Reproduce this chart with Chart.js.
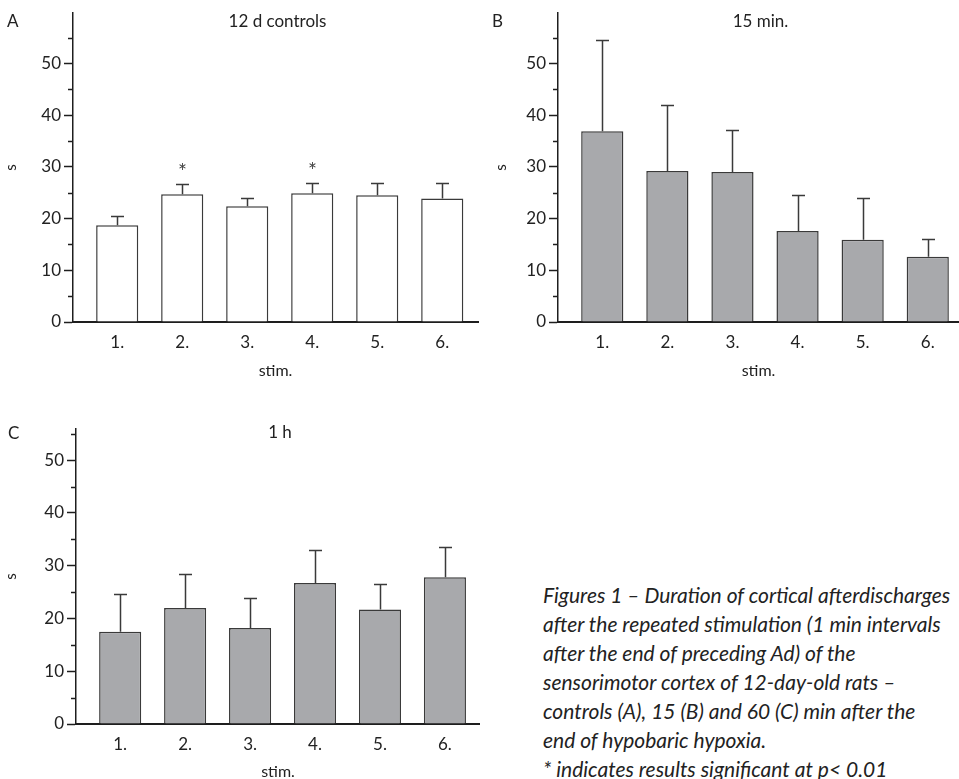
<!DOCTYPE html>
<html>
<head>
<meta charset="utf-8">
<script src="https://cdn.jsdelivr.net/npm/chart.js@4.4.1/dist/chart.umd.min.js"></script>
<style>
  body { margin: 0; background: #fff; width: 959px; height: 779px; position: relative; overflow: hidden;
         font-family: Lato, "Open Sans", sans-serif; color: #222; }
  canvas { position: absolute; }
  .letter { position: absolute; font-size: 17px; line-height: 1; }
  .caption { position: absolute; left: 543px; top: 580px; font-style: italic; font-size: 21px;
             line-height: 29px; white-space: nowrap; }
</style>
</head>
<body>
<canvas id="chartA" width="480" height="385" style="left:0;top:0"></canvas>
<canvas id="chartB" width="479" height="385" style="left:480px;top:0"></canvas>
<canvas id="chartC" width="480" height="386" style="left:0;top:400px"></canvas>

<div class="letter" style="left:7px;top:12px">A</div>
<div class="letter" style="left:492px;top:12px">B</div>
<div class="letter" style="left:8px;top:424px">C</div>

<div class="caption">Figures 1 – Duration of cortical afterdischarges<br>after the repeated stimulation (1 min intervals<br>after the end of preceding Ad) of the<br>sensorimotor cortex of 12-day-old rats –<br>controls (A), 15 (B) and 60 (C) min after the<br>end of hypobaric hypoxia.<br>* indicates results significant at p&lt; 0.01</div>

<script>
"use strict";

// ── Data ──────────────────────────────────────────────────
const stims   = [1, 2, 3, 4, 5, 6];
const xLabels = ["1.", "2.", "3.", "4.", "5.", "6."];

// A: 12 d controls
const controlsMean = [18.7, 24.7, 22.4, 24.9, 24.5, 23.9];
const controlsErr  = [1.7, 1.9, 1.6, 2.0, 2.3, 3.0];
const controlsSig  = [false, true, false, true, false, false];

// B: 15 min after hypoxia
const min15Mean = [36.9, 29.2, 29.0, 17.6, 15.9, 12.6];
const min15Err  = [17.7, 12.8, 8.1, 7.0, 8.0, 3.4];
const min15Sig  = [false, false, false, false, false, false];

// C: 1 h after hypoxia
const hour1Mean = [17.5, 22.0, 18.2, 26.7, 21.7, 27.8];
const hour1Err  = [7.1, 6.4, 5.7, 6.2, 4.9, 5.8];
const hour1Sig  = [false, false, false, false, false, false];

// ── Styles ────────────────────────────────────────────────
const AXIS   = "#1e1e1e";
const EDGE   = "#3a3a3a";
const GREY   = "#a8a9ac";
const FONT   = "Lato, 'Open Sans', sans-serif";

function makePanel(id, p) {
  const extras = {
    id: "extras_" + id,
    afterDatasetsDraw(chart) {
      const { ctx, chartArea, scales: { x, y } } = chart;
      ctx.save();

      // minor ticks at 5, 15, 25 ...
      ctx.strokeStyle = AXIS;
      ctx.lineWidth = 1.5;
      for (let v = 5; v < y.max; v += 10) {
        const py = Math.round(y.getPixelForValue(v)) + 0.5;
        ctx.beginPath();
        ctx.moveTo(chartArea.left - 5, py);
        ctx.lineTo(chartArea.left, py);
        ctx.stroke();
      }

      // upper error bars
      ctx.strokeStyle = EDGE;
      ctx.lineWidth = 1.5;
      p.mean.forEach((m, i) => {
        const px = Math.round(x.getPixelForValue(stims[i])) + 0.5;
        const y0 = y.getPixelForValue(m);
        const y1 = Math.round(y.getPixelForValue(m + p.err[i])) + 0.5;
        ctx.beginPath();
        ctx.moveTo(px, y0);
        ctx.lineTo(px, y1);
        ctx.moveTo(px - 6.5, y1);
        ctx.lineTo(px + 6.5, y1);
        ctx.stroke();

        if (p.sig[i]) {
          ctx.fillStyle = "#444";
          ctx.font = "21px " + FONT;
          ctx.textAlign = "center";
          ctx.textBaseline = "alphabetic";
          ctx.fillText("*", px, y1 - 6);
        }
      });

      // panel title inside the plot
      ctx.fillStyle = "#222";
      ctx.font = "17px " + FONT;
      ctx.textAlign = "center";
      ctx.textBaseline = "middle";
      ctx.fillText(p.title, (chartArea.left + chartArea.right) / 2 + 2, p.titleY);
      ctx.restore();
    },
  };

  return new Chart(document.getElementById(id), {
    type: "bar",
    data: {
      datasets: [{
        data: stims.map((s, i) => ({ x: s, y: p.mean[i] })),
        backgroundColor: p.fill,
        borderColor: EDGE,
        borderWidth: 1.5,
        borderSkipped: "bottom",
        categoryPercentage: 0.8,
        barPercentage: 0.81,
      }],
    },
    options: {
      responsive: false,
      animation: false,
      layout: { padding: { left: p.padLeft, top: p.padTop, right: p.padRight, bottom: 0 } },
      plugins: { legend: { display: false }, tooltip: { enabled: false }, title: { display: false } },
      scales: {
        x: {
          type: "linear",
          min: 0.32,
          max: p.xMax,
          offset: false,
          afterFit: (s) => { s.height = p.xHeight; },
          grid: { display: false, drawTicks: false, tickLength: 0 },
          border: { display: true, color: AXIS, width: 2 },
          ticks: {
            stepSize: 1,
            includeBounds: false,
            padding: 10,
            color: "#222",
            font: { family: FONT, size: 17 },
            callback: (v) => (Number.isInteger(v) && v >= 1 && v <= 6 ? xLabels[v - 1] : ""),
          },
          title: { display: true, text: "stim.", color: "#222", font: { family: FONT, size: 16 },
                   padding: { top: 0, bottom: 5 } },
        },
        y: {
          min: 0,
          max: p.yMax,
          afterFit: (s) => { s.width = p.yWidth; },
          grid: { display: true, drawOnChartArea: false, drawTicks: true, tickLength: 9,
                  tickColor: AXIS, tickWidth: 1.5 },
          border: { display: true, color: AXIS, width: 1.5 },
          ticks: {
            stepSize: 10,
            includeBounds: false,
            padding: 3,
            color: "#222",
            font: { family: FONT, size: 17 },
          },
          title: { display: true, text: "s", color: "#222", font: { family: FONT, size: 15 },
                   padding: { top: 2, bottom: 0 } },
        },
      },
    },
    plugins: [extras],
  });
}

makePanel("chartA", {
  mean: controlsMean, err: controlsErr, sig: controlsSig, title: "12 d controls", fill: "#ffffff",
  padLeft: 0, padTop: 7, padRight: 2, yWidth: 73, xHeight: 63, xMax: 6.55, yMax: 59.7, titleY: 22,
});

makePanel("chartB", {
  mean: min15Mean, err: min15Err, sig: min15Sig, title: "15 min.", fill: GREY,
  padLeft: 10, padTop: 7, padRight: 0, yWidth: 68, xHeight: 63, xMax: 6.48, yMax: 59.7, titleY: 22,
});

makePanel("chartC", {
  mean: hour1Mean, err: hour1Err, sig: hour1Sig, title: "1 h", fill: GREY,
  padLeft: 0, padTop: 29, padRight: 0, yWidth: 76, xHeight: 62, xMax: 6.54, yMax: 55.9, titleY: 33,
});
</script>
</body>
</html>
